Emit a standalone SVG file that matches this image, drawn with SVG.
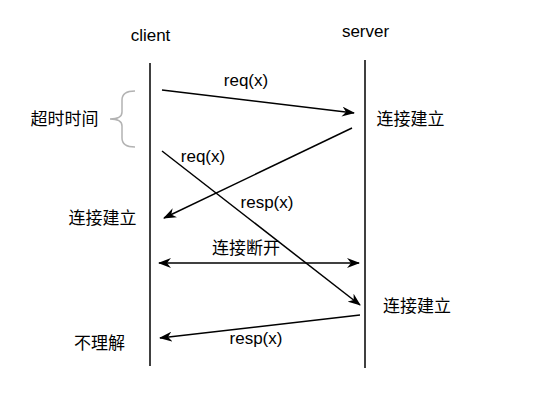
<svg xmlns="http://www.w3.org/2000/svg" width="533" height="412" viewBox="0 0 533 412">
<style>
text{font-family:"Liberation Sans","Noto Sans CJK SC",Arial,sans-serif;font-size:17px;fill:#000;text-anchor:middle}
.cjk{font-size:17px}
.ln{stroke:#000;stroke-width:1.5;fill:none}
.ar{stroke:#000;stroke-width:1.5;fill:none;marker-end:url(#ah)}
</style>
<defs>
<marker id="ah" viewBox="0 0 13 10" refX="12" refY="5" markerWidth="13" markerHeight="10" markerUnits="userSpaceOnUse" orient="auto-start-reverse">
<path d="M0,0 L13,5 L0,10 L4,5 z" fill="#000"/>
</marker>
</defs>
<g id="client">
<line class="ln" x1="150" y1="63" x2="150" y2="366"/>
<text x="150.5" y="41">client</text>
</g>
<g id="server">
<line class="ln" x1="365" y1="60" x2="365" y2="368"/>
<text x="365.5" y="37">server</text>
</g>
<g id="timeout">
<path d="M135,91 Q122,91 122,100 L122,112 Q122,119 110,119 Q122,119 122,126 L122,138 Q122,147 135,147" stroke="#b3b3b3" stroke-width="1.5" fill="none"/>
<text class="cjk" x="64.5" y="125">超时时间</text>
</g>
<g id="labels">
<text class="cjk" x="410.5" y="125">连接建立</text>
<text class="cjk" x="102.5" y="224">连接建立</text>
<text class="cjk" x="246" y="254">连接断开</text>
<text class="cjk" x="417" y="312">连接建立</text>
<text class="cjk" x="99.5" y="349">不理解</text>
</g>
<g id="connectors">
<line class="ar" x1="162" y1="90" x2="354" y2="113"/>
<text x="246" y="86">req(x)</text>
<line class="ar" x1="352" y1="128" x2="164" y2="218"/>
<text x="267" y="208">resp(x)</text>
<line class="ar" x1="162" y1="151" x2="360" y2="305"/>
<text x="203" y="162">req(x)</text>
<line class="ar" x1="159" y1="263" x2="359" y2="263" style="marker-start:url(#ah)"/>
<line class="ar" x1="360" y1="315" x2="160" y2="338"/>
<text x="256" y="344">resp(x)</text>
</g>
</svg>
